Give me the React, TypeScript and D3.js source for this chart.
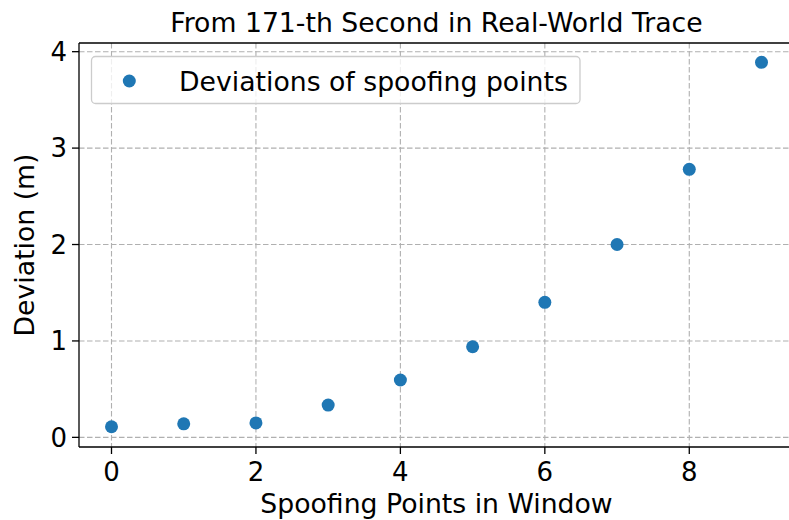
import React from "react";
import * as d3 from "d3";

const xValues = [0, 1, 2, 3, 4, 5, 6, 7, 8, 9];
const deviations = [0.11, 0.14, 0.15, 0.335, 0.595, 0.94, 1.4, 2.0, 2.78, 3.89];
const xTicks = [0, 2, 4, 6, 8];
const yTicks = [0, 1, 2, 3, 4];
const title = "From 171-th Second in Real-World Trace";
const xLabel = "Spoofing Points in Window";
const yLabel = "Deviation (m)";
const legendLabel = "Deviations of spoofing points";

const W = 789;
const H = 520;
const left = 79;
const right = 794;
const top = 43;
const bottom = 447;
const font = "'DejaVu Sans', sans-serif";
const blue = "#1f77b4";

export default function App() {
  const x = d3.scaleLinear().domain([-0.45, 9.45]).range([left, right]);
  const y = d3.scaleLinear().domain([-0.1, 4.09]).range([bottom, top]);
  const grid = "#b0b0b0";
  return (
    <svg
      width={W}
      height={H}
      style={{ position: "absolute", left: 0, top: 0, background: "#fff" }}
      fontFamily={font}
    >
      <rect x={0} y={0} width={W} height={H} fill="#fff" />
      {/* grid */}
      {xTicks.map((t) => (
        <line
          key={"gx" + t}
          x1={x(t)}
          x2={x(t)}
          y1={top}
          y2={bottom}
          stroke={grid}
          strokeWidth={1.1}
          strokeDasharray="5.5,2.5"
        />
      ))}
      {yTicks.map((t) => (
        <line
          key={"gy" + t}
          x1={left}
          x2={right}
          y1={y(t)}
          y2={y(t)}
          stroke={grid}
          strokeWidth={1.1}
          strokeDasharray="5.5,2.5"
        />
      ))}
      {/* points */}
      {xValues.map((v, i) => (
        <circle key={"p" + i} cx={x(v)} cy={y(deviations[i])} r={6.5} fill={blue} />
      ))}
      {/* spines */}
      <line x1={left} x2={left} y1={top} y2={bottom} stroke="#000" strokeWidth={1.3} />
      <line x1={left} x2={right} y1={bottom} y2={bottom} stroke="#000" strokeWidth={1.3} />
      <line x1={left} x2={right} y1={top} y2={top} stroke="#000" strokeWidth={1.3} />
      <line x1={right} x2={right} y1={top} y2={bottom} stroke="#000" strokeWidth={1.3} />
      {/* x ticks */}
      {xTicks.map((t) => (
        <g key={"xt" + t}>
          <line x1={x(t)} x2={x(t)} y1={bottom} y2={bottom + 7} stroke="#000" strokeWidth={1.3} />
          <text x={x(t)} y={481} textAnchor="middle" fontSize={26} fill="#000">
            {t}
          </text>
        </g>
      ))}
      {/* y ticks */}
      {yTicks.map((t) => (
        <g key={"yt" + t}>
          <line x1={left - 7} x2={left} y1={y(t)} y2={y(t)} stroke="#000" strokeWidth={1.3} />
          <text
            x={left - 12}
            y={y(t)}
            dy="0.36em"
            textAnchor="end"
            fontSize={26}
            fill="#000"
          >
            {t}
          </text>
        </g>
      ))}
      {/* labels */}
      <text x={(left + right) / 2} y={32} textAnchor="middle" fontSize={26.7} fill="#000">
        {title}
      </text>
      <text x={(left + right) / 2} y={513} textAnchor="middle" fontSize={26.7} fill="#000">
        {xLabel}
      </text>
      <text
        transform={`translate(34,${(top + bottom) / 2}) rotate(-90)`}
        textAnchor="middle"
        fontSize={26.7}
        fill="#000"
      >
        {yLabel}
      </text>
      {/* legend */}
      <rect
        x={91.5}
        y={56.5}
        width={488.5}
        height={47}
        rx={4}
        fill="#fff"
        fillOpacity={0.8}
        stroke="#cccccc"
        strokeWidth={1.3}
      />
      <circle cx={129.3} cy={81} r={6.5} fill={blue} />
      <text x={179} y={90.5} fontSize={26.7} fill="#000">
        {legendLabel}
      </text>
    </svg>
  );
}
